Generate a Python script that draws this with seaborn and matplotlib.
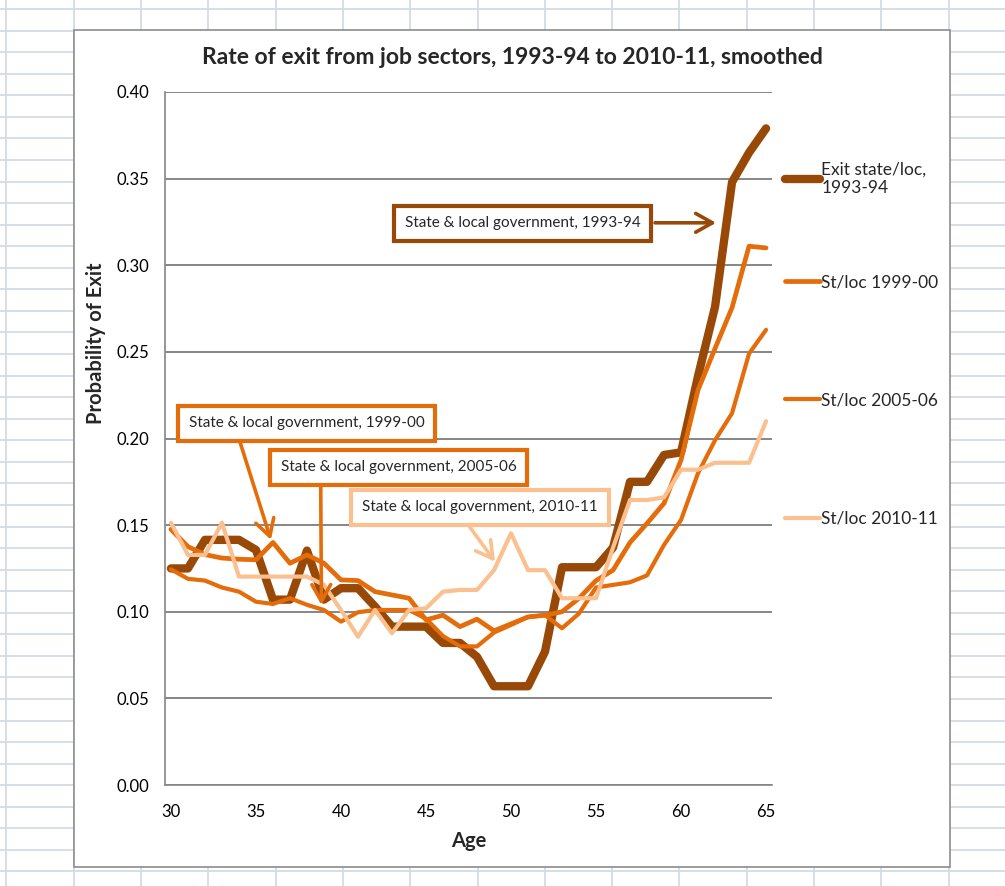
import matplotlib
matplotlib.use("Agg")
import matplotlib.pyplot as plt
import numpy as np
import pandas as pd
import seaborn as sns
from matplotlib.lines import Line2D
from matplotlib.patches import Rectangle

# values, ages 30..65
ages = list(range(30, 66))
exit_9394 = [0.125, 0.125, 0.1415, 0.1415, 0.1415, 0.1357, 0.107, 0.107, 0.1353, 0.107,
             0.1136, 0.1136, 0.103, 0.0914, 0.0914, 0.0914, 0.082, 0.082, 0.074, 0.057,
             0.057, 0.057, 0.077, 0.1257, 0.1257, 0.1257, 0.137, 0.175, 0.175, 0.1905,
             0.192, 0.236, 0.276, 0.348, 0.365, 0.379]
stloc_9900 = [0.1476, 0.1376, 0.133, 0.131, 0.1303, 0.13, 0.14, 0.128, 0.1328, 0.128,
              0.1184, 0.118, 0.1116, 0.1097, 0.1078, 0.0953, 0.098, 0.0914, 0.0957, 0.089,
              0.093, 0.097, 0.098, 0.1, 0.1078, 0.118, 0.124, 0.140, 0.151, 0.1626,
              0.1876, 0.228, 0.252, 0.2755, 0.311, 0.31]
stloc_0506 = [0.1245, 0.119, 0.118, 0.114, 0.1116, 0.1058, 0.1045, 0.1078, 0.104, 0.101,
              0.0943, 0.0997, 0.101, 0.101, 0.101, 0.096, 0.086, 0.08, 0.08, 0.088,
              0.0924, 0.097, 0.098, 0.0905, 0.099, 0.114, 0.1155, 0.117, 0.121, 0.1386,
              0.153, 0.18, 0.199, 0.2146, 0.249, 0.2627]
stloc_1011 = [0.1514, 0.1328, 0.1328, 0.1514, 0.1203, 0.1203, 0.1203, 0.1203, 0.1203, 0.1155,
              0.101, 0.0856, 0.101, 0.0876, 0.101, 0.102, 0.1116, 0.1126, 0.1126, 0.124,
              0.1453, 0.124, 0.124, 0.1078, 0.1078, 0.1078, 0.137, 0.1645, 0.1645, 0.166,
              0.182, 0.182, 0.186, 0.186, 0.186, 0.21]

series_names = ["Exit state/loc,\n1993-94", "St/loc 1999-00", "St/loc 2005-06", "St/loc 2010-11"]
colors = ["#984807", "#E46C0A", "#E46C0A", "#FAC090"]
widths = [6.0, 3.4, 3.0, 3.0]

sns.set_style("white")
plt.rcParams["font.family"] = ["Lato", "DejaVu Sans"]

W, H = 1005, 886
fig = plt.figure(figsize=(W / 100, H / 100), dpi=100)
fig.patch.set_facecolor("white")

# spreadsheet cells behind the chart
for y in np.arange(9.1, H, 21.56):
    fig.add_artist(Line2D([0, 1], [1 - y / H] * 2, transform=fig.transFigure,
                          color="#D3DBE7", lw=1.3, zorder=-3))
for x in np.arange(6.4, W, 67.3):
    fig.add_artist(Line2D([x / W] * 2, [0, 1], transform=fig.transFigure,
                          color="#D3DBE7", lw=1.3, zorder=-3))
fig.add_artist(Rectangle((74 / W, 1 - 867 / H), (950 - 74) / W, (867 - 30) / H,
                         transform=fig.transFigure, facecolor="white",
                         edgecolor="#8C8C8C", lw=1.2, zorder=-1))

ax = fig.add_axes([165 / W, 1 - 785 / H, (772 - 165) / W, (785 - 92) / H])

data = pd.DataFrame({"Age": ages, "s0": exit_9394, "s1": stloc_9900,
                     "s2": stloc_0506, "s3": stloc_1011})
for i, col in enumerate(["s0", "s1", "s2", "s3"]):
    sns.lineplot(data=data, x="Age", y=col, ax=ax, color=colors[i],
                 linewidth=widths[i], legend=False, zorder=3 + i)

ax.set_xlim(29.65, 65.35)
ax.set_ylim(0, 0.4)
ax.set_xticks(range(30, 66, 5))
ax.set_xticks(range(30, 66), minor=True)
ax.set_yticks(np.arange(0, 0.401, 0.05))
ax.set_yticklabels([f"{v:.2f}" for v in np.arange(0, 0.401, 0.05)])
ax.tick_params(axis="both", which="both", direction="out", length=4, width=1,
               color="#868686", labelsize=12, labelcolor="black")
ax.tick_params(axis="x", which="both", pad=10)
ax.tick_params(axis="y", pad=7)
ax.yaxis.grid(True, color="#868686", lw=1.4)
ax.set_axisbelow(True)
for s in ["top", "right"]:
    ax.spines[s].set_visible(False)
for s in ["left", "bottom"]:
    ax.spines[s].set_color("#868686")
    ax.spines[s].set_linewidth(1.2)

ax.set_xlabel("Age", fontsize=14.5, fontweight="bold")
ax.set_ylabel("Probability of Exit", fontsize=14.5, fontweight="bold")
ax.xaxis.set_label_coords(0.5, -0.066)
ax.yaxis.set_label_coords(-0.098, 0.638)

fig.text(512 / W, 1 - 58 / H, "Rate of exit from job sectors, 1993-94 to 2010-11, smoothed",
         ha="center", va="center", fontsize=16.5, fontweight="bold")

# legend, split so the two-line first entry keeps the even spacing
leg1 = ax.legend(handles=[ax.lines[0]], labels=[series_names[0]], loc="center left",
                 bbox_to_anchor=(785 / W, 1 - 179 / H), bbox_transform=fig.transFigure,
                 frameon=False, fontsize=12.5, handlelength=2.0, handletextpad=0.1,
                 borderpad=0, borderaxespad=0)
ax.add_artist(leg1)
ax.legend(handles=ax.lines[1:4], labels=series_names[1:], loc="center left",
          bbox_to_anchor=(785 / W, 1 - 400.5 / H), bbox_transform=fig.transFigure,
          frameon=False, fontsize=12.5, handlelength=2.0, handletextpad=0.1,
          borderpad=0, borderaxespad=0, labelspacing=5.9)

# callout boxes and arrows
notes = ["State & local government, 1993-94", "State & local government, 1999-00",
         "State & local government, 2005-06", "State & local government, 2010-11"]
note_x = [50.68, 37.97, 43.38, 48.18]
note_y = [0.3242, 0.2087, 0.1833, 0.1602]
arrow_from = [(58.47, 0.3245), (34.06, 0.198), (38.81, 0.172), (47.49, 0.1501)]
arrow_to = [(62.06, 0.3245), (35.88, 0.1415), (38.85, 0.1039), (49.06, 0.1289)]
note_colors = ["#984807", "#E46C0A", "#E46C0A", "#FAC090"]

for i in range(4):
    ax.annotate("", xy=arrow_to[i], xytext=arrow_from[i],
                arrowprops=dict(arrowstyle="->,head_length=0.8,head_width=0.45",
                                color=note_colors[i], lw=2.6, shrinkA=0, shrinkB=0,
                                mutation_scale=15),
                zorder=8)
    ax.text(note_x[i], note_y[i], notes[i], ha="center", va="center", fontsize=11,
            bbox=dict(boxstyle="square,pad=0.7", fc="white", ec=note_colors[i], lw=3),
            zorder=9)

fig.savefig("out.png", dpi=100)
